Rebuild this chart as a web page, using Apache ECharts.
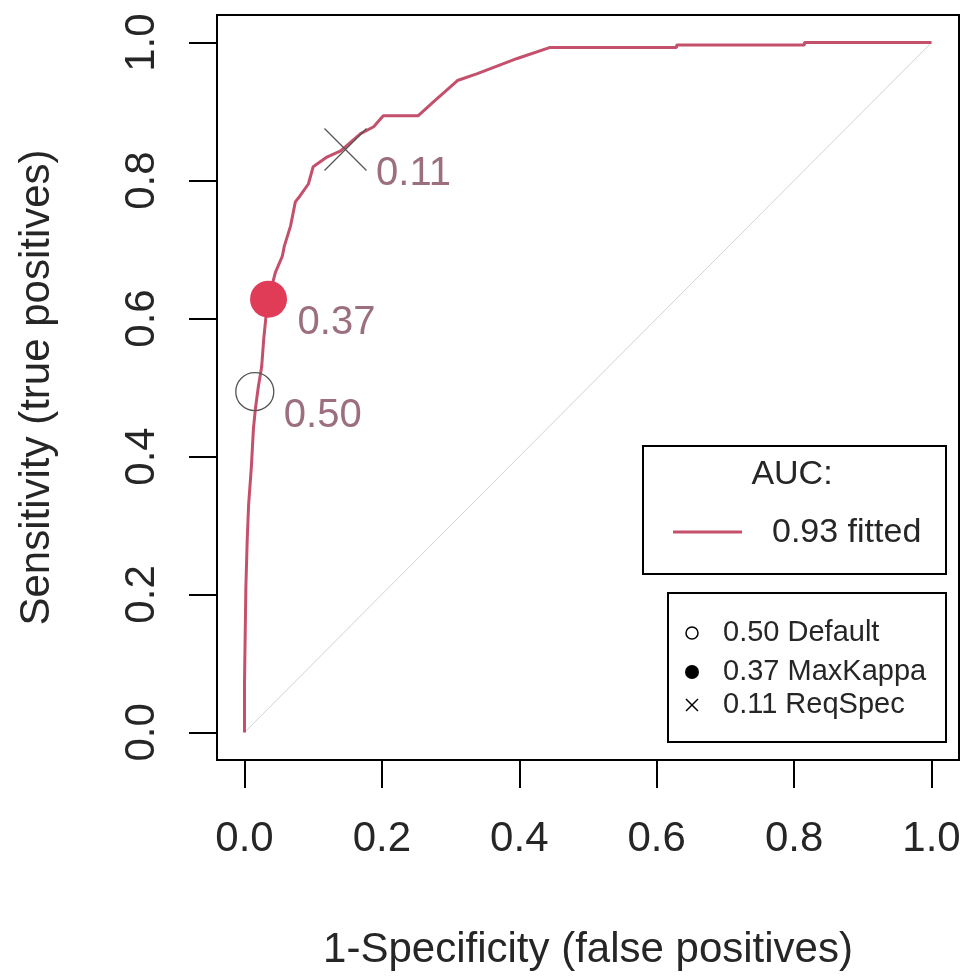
<!DOCTYPE html>
<html>
<head>
<meta charset="utf-8">
<title>ROC curve</title>
<script src="https://cdn.jsdelivr.net/npm/echarts@6/dist/echarts.min.js"></script>
<style>
    html, body { margin: 0; padding: 0; background: #fff; }
    #rocChart { width: 965px; height: 976px; }
</style>
</head>
<body>
<div id="rocChart"></div>
<script>
// ROC curve points: 1-specificity / sensitivity
var fprValues = [0, 0, 0.002, 0.004, 0.006, 0.010, 0.013, 0.016, 0.020, 0.025, 0.028, 0.031, 0.035,
    0.045, 0.055, 0.058, 0.067, 0.074, 0.081, 0.093, 0.100, 0.120, 0.140, 0.169, 0.188, 0.202,
    0.253, 0.275, 0.310, 0.339, 0.397, 0.445, 0.629, 0.629, 0.815, 0.815, 1.0];
var tprValues = [0, 0.07, 0.21, 0.28, 0.33, 0.385, 0.44, 0.47, 0.50, 0.53, 0.57, 0.60, 0.628,
    0.667, 0.690, 0.705, 0.734, 0.769, 0.778, 0.795, 0.820, 0.834, 0.843, 0.868, 0.878, 0.894,
    0.894, 0.914, 0.945, 0.955, 0.977, 0.993, 0.993, 0.9965, 0.9965, 1.0, 1.0];

// threshold points
var thrLabels = ['0.50', '0.37', '0.11'];
var thrNames = ['Default', 'MaxKappa', 'ReqSpec'];
var thrFpr = [0.015, 0.035, 0.147];
var thrTpr = [0.494, 0.628, 0.845];

var tickValues = [0, 0.2, 0.4, 0.6, 0.8, 1.0];
var aucText = '0.93 fitted';

var FONT = 'Liberation Sans, Arial, sans-serif';
var TEXT_COLOR = '#262626';
var CURVE_COLOR = '#C4506C';
var POINT_COLOR = '#E03C58';
var LABEL_COLOR = '#9C6F80';

var curveData = [];
for (var i = 0; i < fprValues.length; i++) {
    curveData.push([fprValues[i], tprValues[i]]);
}

// marker style for each threshold
var thrSymbols = [
    {symbol: 'circle', size: 38, itemStyle: {color: 'rgba(0,0,0,0)', borderColor: '#555', borderWidth: 1.3, opacity: 1}},
    {symbol: 'circle', size: 37, itemStyle: {color: POINT_COLOR, borderWidth: 0, opacity: 1}},
    {symbol: 'path://M0,0L10,10M10,0L0,10', size: 42, itemStyle: {color: 'none', borderColor: '#555', borderWidth: 1.3, opacity: 1}}
];

var thrSeries = thrLabels.map(function (lab, k) {
    return {
        type: 'scatter',
        name: lab + ' ' + thrNames[k],
        data: [[thrFpr[k], thrTpr[k]]],
        symbol: thrSymbols[k].symbol,
        symbolSize: thrSymbols[k].size,
        itemStyle: thrSymbols[k].itemStyle,
        z: 5,
        silent: true,
        label: {
            show: true,
            position: 'inside',
            offset: [68, 24],
            formatter: lab,
            fontFamily: FONT,
            fontSize: 40,
            color: LABEL_COLOR
        }
    };
});

var chart = echarts.init(document.getElementById('rocChart'), null, {renderer: 'canvas'});

function axisCommon(name, gap, labelMargin) {
    return {
        type: 'value',
        min: -0.04,
        max: 1.04,
        name: name,
        nameLocation: 'middle',
        nameGap: gap,
        nameTextStyle: {fontFamily: FONT, fontSize: 42, color: TEXT_COLOR},
        axisLine: {show: false, onZero: false},
        splitLine: {show: false},
        axisTick: {
            show: true,
            customValues: tickValues,
            length: 28,
            lineStyle: {color: '#000', width: 2}
        },
        axisLabel: {
            customValues: tickValues,
            margin: labelMargin,
            fontFamily: FONT,
            fontSize: 42,
            color: TEXT_COLOR,
            formatter: function (v) { return v.toFixed(1); }
        }
    };
}

var xAxis = axisCommon('1-Specificity (false positives)', 169, 58);
var yAxis = axisCommon('Sensitivity (true positives)', 159, 54);
yAxis.axisLabel.rotate = 90;

// legend boxes, drawn like R's legend()
var legendGraphics = [
    {type: 'rect', shape: {x: 643, y: 446, width: 303, height: 128},
        style: {fill: '#fff', stroke: '#000', lineWidth: 2}},
    {type: 'text', x: 792, y: 475,
        style: {text: 'AUC:', font: '34px ' + FONT, fill: TEXT_COLOR, textAlign: 'center', textVerticalAlign: 'middle'}},
    {type: 'line', shape: {x1: 673, y1: 532, x2: 742, y2: 532},
        style: {stroke: CURVE_COLOR, lineWidth: 3}},
    {type: 'text', x: 772, y: 533,
        style: {text: aucText, font: '34px ' + FONT, fill: TEXT_COLOR, textAlign: 'left', textVerticalAlign: 'middle'}},
    {type: 'rect', shape: {x: 668, y: 593, width: 278, height: 149},
        style: {fill: '#fff', stroke: '#000', lineWidth: 2}},
    {type: 'circle', shape: {cx: 692, cy: 633, r: 6},
        style: {fill: 'none', stroke: '#000', lineWidth: 1.5}},
    {type: 'circle', shape: {cx: 692, cy: 672, r: 7},
        style: {fill: '#000'}},
    {type: 'polyline', shape: {points: [[686, 699], [698, 711]]}, style: {stroke: '#000', lineWidth: 1.5, fill: null}},
    {type: 'polyline', shape: {points: [[698, 699], [686, 711]]}, style: {stroke: '#000', lineWidth: 1.5, fill: null}}
];
var legendY = [633, 672, 705];
thrLabels.forEach(function (lab, k) {
    legendGraphics.push({
        type: 'text', x: 723, y: legendY[k],
        style: {text: lab + ' ' + thrNames[k], font: '29px ' + FONT, fill: TEXT_COLOR, textAlign: 'left', textVerticalAlign: 'middle'}
    });
});

chart.setOption({
    backgroundColor: '#fff',
    animation: false,
    grid: {
        left: 217,
        top: 15,
        width: 742,
        height: 745,
        show: true,
        borderColor: '#000',
        borderWidth: 2,
        backgroundColor: 'transparent'
    },
    xAxis: xAxis,
    yAxis: yAxis,
    graphic: legendGraphics.map(function (g) { g.z = 100; return g; }),
    series: [
        {
            type: 'line',
            name: 'chance',
            data: [[0, 0], [1, 1]],
            showSymbol: false,
            silent: true,
            lineStyle: {color: '#D3D3D3', width: 1}
        },
        {
            type: 'line',
            name: aucText,
            data: curveData,
            showSymbol: false,
            silent: true,
            z: 3,
            lineStyle: {color: CURVE_COLOR, width: 3}
        }
    ].concat(thrSeries)
});
</script>
</body>
</html>
